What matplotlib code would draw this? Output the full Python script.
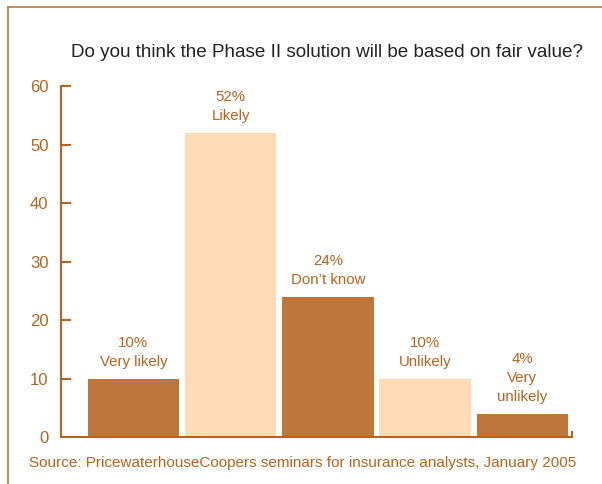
import matplotlib.pyplot as plt
from matplotlib.lines import Line2D

plt.rcParams["font.family"] = ["Liberation Sans", "DejaVu Sans"]

# survey answers and share of respondents (%)
answers = ["Very likely", "Likely", "Don\u2019t know", "Unlikely", "Very\nunlikely"]
shares = [10, 52, 24, 10, 4]
y_ticks = [0, 10, 20, 30, 40, 50, 60]

DARK = "#c0763a"
LIGHT = "#fddcb5"
AXIS = "#b5631f"
TEXT = "#b5631f"
colors = [DARK, LIGHT, DARK, LIGHT, DARK]

fig = plt.figure(figsize=(6.02, 4.84), dpi=100)
ax = fig.add_axes([0.1013, 0.0971, 0.8487, 0.7252])

x = range(len(shares))
ax.bar(x, shares, width=0.94, color=colors, linewidth=0)
for i, (v, lbl) in enumerate(zip(shares, answers)):
    ax.annotate(f"{v}%\n{lbl}", (i, v), xytext=(0, 7), textcoords="offset points",
                ha="center", va="bottom", fontsize=10.8, color=TEXT, linespacing=1.45)

ax.set_xlim(-0.745, 4.51)
ax.set_ylim(0, 60)
ax.set_yticks(y_ticks)
ax.set_xticks([4.51])
ax.set_xticklabels([""])
ax.tick_params(axis="y", direction="in", length=7.5, width=1.5, color=AXIS,
               labelcolor=TEXT, labelsize=12, pad=9)
ax.tick_params(axis="x", direction="in", length=4, width=1.5, color=AXIS)
for side in ("top", "right"):
    ax.spines[side].set_visible(False)
for side in ("left", "bottom"):
    ax.spines[side].set_color(AXIS)
    ax.spines[side].set_linewidth(1.5)

fig.text(0.543, 0.891, "Do you think the Phase II solution will be based on fair value?",
         ha="center", va="center", fontsize=13.6, color="#222222")
fig.text(0.503, 0.043, "Source: PricewaterhouseCoopers seminars for insurance analysts, January 2005",
         ha="center", va="center", fontsize=11, color=TEXT)

# frame along the top and left edges
fig.add_artist(Line2D([8 / 602, 1], [1 - 7 / 484, 1 - 7 / 484], color=DARK, lw=1.2))
fig.add_artist(Line2D([8 / 602, 8 / 602], [0, 1 - 7 / 484], color=DARK, lw=1.2))

fig.savefig("out.png", dpi=100)
